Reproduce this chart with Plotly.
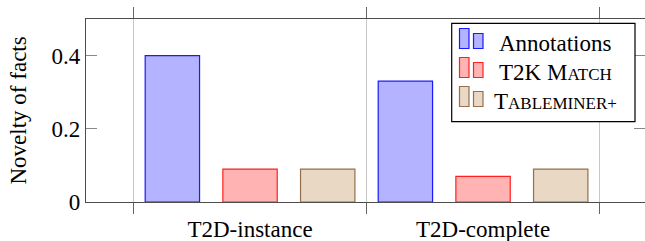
import plotly.graph_objects as go

categories = ["T2D-instance", "T2D-complete"]
series_names = ["Annotations",
                "T2K M<span style='font-size:17px'>ATCH</span>",
                "T<span style='font-size:17px'>ABLEMINER+</span>"]
annotations_vals = [0.40, 0.33]
t2k_vals = [0.09, 0.07]
tableminer_vals = [0.09, 0.09]
y_ticks = [0, 0.2, 0.4]
y_ticktext = ["0", "0.2", "0.4"]

fills = ["#B3B3FF", "#FFB3B3", "#E9D8C4"]
strokes = ["#1a1aff", "#ff2020", "#94704C"]

W, H = 645, 241
L, R, T, B = 86, 0, 19, 39
FONT = "Liberation Serif, DejaVu Serif, serif"
FS = 23

def px(x):
    return (x - L) / (W - L - R)

def py(y):
    return (H - B - y) / (H - T - B)

fig = go.Figure()
for vals, name, fc, lc in zip([annotations_vals, t2k_vals, tableminer_vals],
                              series_names, fills, strokes):
    fig.add_trace(go.Bar(x=categories, y=vals, name=name,
                         marker=dict(color=fc, line=dict(color=lc, width=1.2)),
                         showlegend=False))
# invisible trace to carry right axis ticks
fig.add_trace(go.Scatter(x=categories, y=annotations_vals, yaxis="y2",
                         mode="markers", marker=dict(opacity=0),
                         showlegend=False, hoverinfo="skip"))

axis_col = "#4d4d4d"
fig.update_layout(
    width=W, height=H,
    margin=dict(l=L, r=R, t=T, b=B, pad=0),
    paper_bgcolor="white", plot_bgcolor="white",
    font=dict(family=FONT, size=FS, color="black"),
    barmode="group", bargap=0.0, bargroupgap=0.3,
    xaxis=dict(range=[-0.704, 1.695], tickson="boundaries",
               ticks="outside", ticklen=11, tickwidth=1, tickcolor="#666666",
               ticklabelstandoff=6,
               showgrid=True, gridcolor="#c8c8c8", gridwidth=1,
               showline=True, linecolor=axis_col, linewidth=1.2, mirror="ticks",
               tickfont=dict(family=FONT, size=FS), zeroline=False),
    yaxis=dict(range=[0, 0.5], tickvals=y_ticks, ticktext=y_ticktext,
               ticks="inside", ticklen=11, tickwidth=1, tickcolor="#888888",
               showgrid=False, zeroline=False,
               showline=True, linecolor=axis_col, linewidth=1.2, mirror=False,
               tickfont=dict(family=FONT, size=FS)),
    yaxis2=dict(range=[0, 0.5], tickvals=y_ticks, overlaying="y", side="right",
                ticks="inside", ticklen=11, tickwidth=1, tickcolor="#888888",
                showticklabels=False, showline=False, showgrid=False, zeroline=False),
)

# y-axis title
fig.add_annotation(text="Novelty of facts", xref="paper", yref="paper",
                   x=px(18), y=0.5, textangle=-90, showarrow=False,
                   font=dict(family=FONT, size=FS), xanchor="center", yanchor="middle")

# legend box
fig.add_shape(type="rect", xref="paper", yref="paper",
              x0=px(451.7), x1=px(635), y0=py(121.7), y1=py(23.3),
              fillcolor="white", line=dict(color="black", width=1.2), layer="above")
rows = [43, 72, 101]
for rc, name, fc, lc in zip(rows, series_names, fills, strokes):
    fig.add_shape(type="rect", xref="paper", yref="paper",
                  x0=px(459.5), x1=px(469), y0=py(rc + 5.5), y1=py(rc - 14.5),
                  fillcolor=fc, line=dict(color=lc, width=1.2), layer="above")
    fig.add_shape(type="rect", xref="paper", yref="paper",
                  x0=px(473.5), x1=px(483), y0=py(rc + 5.5), y1=py(rc - 9.5),
                  fillcolor=fc, line=dict(color=lc, width=1.2), layer="above")
    fig.add_annotation(text=name, xref="paper", yref="paper",
                       x=px(555), y=py(rc), showarrow=False,
                       xanchor="center", yanchor="middle",
                       font=dict(family=FONT, size=FS, color="black"))

fig.write_html("out.html", post_script="document.body.style.margin='0px';",
               config={"displayModeBar": False})
